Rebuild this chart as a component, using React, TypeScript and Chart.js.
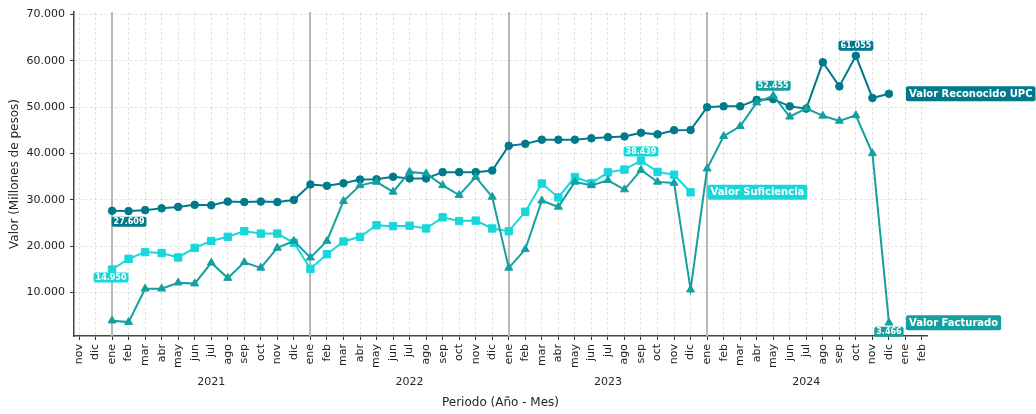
import React, { useEffect, useRef } from 'react';
import { Chart, registerables } from 'chart.js';

Chart.register(...registerables);

// Month tick labels: nov 2020 ... feb 2025
const monthNames = ['ene', 'feb', 'mar', 'abr', 'may', 'jun', 'jul', 'ago', 'sep', 'oct', 'nov', 'dic'];
const monthLabels: string[] = ['nov', 'dic', ...monthNames, ...monthNames, ...monthNames, ...monthNames, 'ene', 'feb'];
const years = ['2021', '2022', '2023', '2024'];
const yTicks = [10000, 20000, 30000, 40000, 50000, 60000, 70000];
const startIndex = 2; // ene 2021 position in monthLabels

// Values in millions of pesos, monthly from ene 2021
const upc = [
  27609, 27550, 27750, 28150, 28450, 28900, 28800, 29600, 29500, 29600, 29500, 29950,
  33300, 33000, 33550, 34350, 34400, 34950, 34600, 34600, 35950, 35950, 35950, 36300,
  41650, 42050, 42950, 42950, 42950, 43250, 43500, 43650, 44450, 44100, 45000, 45050,
  49950, 50150, 50150, 51550, 51700, 50150, 49650, 59650, 54450, 61055, 51950, 52850,
];
const suficiencia = [
  14950, 17250, 18700, 18500, 17550, 19600, 21100, 22000, 23200, 22700, 22700, 20700,
  15100, 18250, 21000, 22000, 24500, 24300, 24400, 23800, 26200, 25400, 25500, 23800,
  23200, 27400, 33500, 30500, 34900, 33600, 35900, 36500, 38439, 36000, 35400, 31600,
];
const facturado = [
  3900, 3600, 10800, 10800, 12100, 11900, 16400, 13100, 16500, 15300, 19600, 21100,
  17500, 21100, 29700, 33100, 33850, 31700, 36000, 35650, 33100, 31000, 34900, 30600,
  15300, 19300, 29800, 28450, 33850, 33100, 34200, 32200, 36400, 33850, 33600, 10600,
  36700, 43700, 45850, 50950, 52455, 47900, 49700, 48100, 47000, 48200, 40000, 3466,
];

const seriesNames = ['Valor Reconocido UPC', 'Valor Suficiencia', 'Valor Facturado'];
const colors = ['#00798a', '#17d7da', '#14a0a0'];

const fmt = (v: number) => String(Math.round(v)).replace(/\B(?=(\d{3})+(?!\d))/g, '.');
const toPoints = (arr: number[]) => arr.map((y, i) => ({ x: startIndex + i, y }));

const FONT = "'DejaVu Sans', sans-serif";

function tag(ctx: CanvasRenderingContext2D, text: string, x: number, cy: number, bg: string, size: number, padX: number, h: number, align: 'center' | 'left') {
  ctx.save();
  ctx.font = `bold ${size}px ${FONT}`;
  const w = ctx.measureText(text).width + padX * 2;
  const left = align === 'center' ? x - w / 2 : x;
  ctx.fillStyle = bg;
  ctx.beginPath();
  (ctx as any).roundRect(left, cy - h / 2, w, h, 2);
  ctx.fill();
  ctx.fillStyle = '#ffffff';
  ctx.textBaseline = 'middle';
  ctx.textAlign = 'left';
  ctx.fillText(text, left + padX, cy + 0.5);
  ctx.restore();
}

const overlay = {
  id: 'overlay',
  beforeDatasetsDraw(chart: any) {
    const { ctx, chartArea, scales } = chart;
    const x = scales.x;
    ctx.save();
    ctx.strokeStyle = '#b8b8b8';
    ctx.lineWidth = 2;
    years.forEach((_, i) => {
      const px = Math.round(x.getPixelForValue(startIndex + 12 * i));
      ctx.beginPath();
      ctx.moveTo(px, chartArea.top);
      ctx.lineTo(px, chartArea.bottom);
      ctx.stroke();
    });
    ctx.restore();
  },
  afterDatasetsDraw(chart: any) {
    const { ctx, scales } = chart;
    const x = scales.x;
    const y = scales.y;
    const px = (i: number) => x.getPixelForValue(startIndex + i);
    const py = (v: number) => y.getPixelForValue(v);
    // data labels
    tag(ctx, fmt(upc[0]), px(0) + 17, py(upc[0]) + 11, colors[0], 8, 2, 10, 'center');
    tag(ctx, fmt(suficiencia[0]), px(0) - 1, py(suficiencia[0]) + 8, colors[1], 8, 2, 10, 'center');
    tag(ctx, fmt(suficiencia[32]), px(32), py(suficiencia[32]) - 9, colors[1], 8, 2, 10, 'center');
    tag(ctx, fmt(facturado[40]), px(40), py(facturado[40]) - 10, colors[2], 8, 2, 10, 'center');
    tag(ctx, fmt(upc[45]), px(45), py(upc[45]) - 10, colors[0], 8, 2, 10, 'center');
    tag(ctx, fmt(facturado[47]), px(47), py(facturado[47]) + 9, colors[2], 8, 2, 10, 'center');
    // series end labels
    const ends = [upc, suficiencia, facturado];
    ends.forEach((arr, s) => {
      const i = arr.length - 1;
      tag(ctx, seriesNames[s], px(i) + 17, py(arr[i]), colors[s], 10, 3, 15, 'left');
    });
  },
  afterDraw(chart: any) {
    const { ctx, chartArea, scales } = chart;
    const x = scales.x;
    ctx.save();
    ctx.fillStyle = '#262626';
    ctx.textAlign = 'center';
    ctx.textBaseline = 'middle';
    ctx.font = `11px ${FONT}`;
    years.forEach((yr, i) => {
      ctx.fillText(yr, x.getPixelForValue(startIndex + 12 * i + 6), 382);
    });
    ctx.font = `12px ${FONT}`;
    ctx.fillText('Periodo (Año - Mes)', (chartArea.left + chartArea.right) / 2, 403);
    ctx.translate(15, (chartArea.top + chartArea.bottom) / 2);
    ctx.rotate(-Math.PI / 2);
    ctx.fillText('Valor (Millones de pesos)', 0, 0);
    ctx.restore();
  },
};

export default function App() {
  const ref = useRef<HTMLCanvasElement>(null);
  useEffect(() => {
    if (!ref.current) return;
    const mk = (label: string, arr: number[], c: string, style: string, r: number, order: number) => ({
      label,
      data: toPoints(arr),
      borderColor: c,
      backgroundColor: c,
      pointBackgroundColor: c,
      pointBorderColor: c,
      borderWidth: 2,
      pointStyle: style,
      pointRadius: r,
      pointBorderWidth: 1,
      tension: 0,
      order,
    });
    const chart = new Chart(ref.current, {
      type: 'line',
      data: {
        datasets: [
          mk(seriesNames[0], upc, colors[0], 'circle', 3.8, 2),
          mk(seriesNames[1], suficiencia, colors[1], 'rect', 5.2, 1),
          mk(seriesNames[2], facturado, colors[2], 'triangle', 4.6, 0),
        ] as any,
      },
      options: {
        responsive: false,
        animation: false,
        events: [],
        layout: { padding: { top: 12, right: 109, left: 0, bottom: 0 } },
        plugins: { legend: { display: false }, tooltip: { enabled: false } },
        scales: {
          x: {
            type: 'linear',
            min: -0.3025,
            max: 51.3025,
            afterBuildTicks: (s: any) => {
              s.ticks = monthLabels.map((_, i) => ({ value: i }));
            },
            afterFit: (s: any) => {
              s.height = 78;
            },
            ticks: {
              autoSkip: false,
              minRotation: 90,
              maxRotation: 90,
              padding: 4,
              color: '#222',
              font: { family: FONT, size: 11 },
              callback: (v: any) => monthLabels[Math.round(v)] ?? '',
            },
            grid: {
              color: 'rgba(0,0,0,0.11)',
              tickColor: '#333',
              tickLength: 4,
              tickWidth: 1,
              lineWidth: 1,
            },
            border: { display: true, color: '#444', width: 1.5, dash: [3, 2] },
          },
          y: {
            type: 'linear',
            min: 600,
            max: 70500,
            afterBuildTicks: (s: any) => {
              s.ticks = yTicks.map((v) => ({ value: v }));
            },
            afterFit: (s: any) => {
              s.width = 74;
            },
            ticks: {
              padding: 5,
              color: '#222',
              font: { family: FONT, size: 11 },
              callback: (v: any) => fmt(Number(v)),
            },
            grid: {
              color: 'rgba(0,0,0,0.11)',
              tickColor: '#333',
              tickLength: 4,
              tickWidth: 1,
              lineWidth: 1,
            },
            border: { display: true, color: '#444', width: 1.5, dash: [3, 2] },
          },
        },
      } as any,
      plugins: [overlay],
    });
    return () => chart.destroy();
  }, []);
  return (
    <div style={{ position: 'fixed', left: 0, top: 0, width: 1036, height: 414, background: '#fff' }}>
      <canvas ref={ref} width={1036} height={414} />
    </div>
  );
}
